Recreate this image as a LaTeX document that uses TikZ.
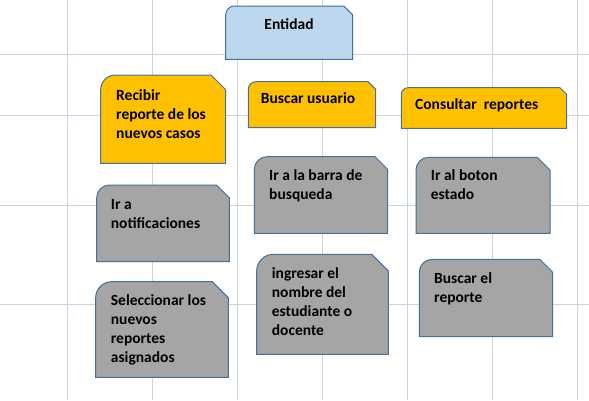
\documentclass[tikz,border=0pt]{standalone}
\usepackage{fontspec}
\setmainfont{Carlito}
\usetikzlibrary{calc}
\definecolor{rejilla}{RGB}{201,211,226}
\definecolor{borde}{RGB}{65,113,156}
\definecolor{celeste}{RGB}{189,215,238}
\definecolor{ambar}{RGB}{255,192,0}
\definecolor{gris}{RGB}{165,165,165}

% box with rounded top-left corner and snipped top-right corner
\newcommand{\tarjeta}[5]{%
  \pgfmathsetmacro{\rr}{min(#4-#2,#5-#3)/6}%
  \path[#1] (#2,#5) -- (#2,#3+\rr) arc[start angle=180, end angle=270, radius=\rr]
    -- (#4-\rr,#3) -- (#4,#3+\rr) -- (#4,#5) -- cycle;}

\begin{document}
\begin{tikzpicture}[x=1pt, y=-1pt,
  forma/.style={fill=#1, draw=borde, line width=1pt},
  txt/.style={font=\fontsize{15.5}{19}\selectfont\bfseries, align=left, inner sep=0pt, anchor=base west},
  grid line/.style={draw=rejilla, line width=1pt}
]
\useasboundingbox (0,0) rectangle (589,400);
\fill[white] (0,0) rectangle (589,400);

% Background grid
\foreach \x in {67.7,152.7,237.7,322.5,407.7,492.7,577.3}
  \draw[grid line] (\x,0) -- (\x,400);
\foreach \y in {54,115.3,205.3,304}
  \draw[grid line] (0,\y) -- (589,\y);

% Top entity
\tarjeta{forma=celeste}{225.7}{6}{352.7}{59.3}
\node[txt, anchor=base] (entidad) at (289,29.5) {Entidad};

% Main tasks (base = last line)
\tarjeta{forma=ambar}{100.7}{75}{225.7}{163.3}
\node[txt] (recibir) at (116,138) {Recibir\\reporte de los\\nuevos casos};
\tarjeta{forma=ambar}{248.3}{81.7}{375.7}{127.7}
\node[txt] (buscarU) at (260.7,103) {Buscar usuario};
\tarjeta{forma=ambar}{401.3}{87.7}{566.7}{128.3}
\node[txt] (consultar) at (415,109) {Consultar~ reportes};

% Steps
\tarjeta{forma=gris}{96.7}{185}{229.3}{261.7}
\node[txt] (notif) at (110.7,228) {Ir a\\notificaciones};
\tarjeta{forma=gris}{95.7}{281.7}{228.3}{377.3}
\node[txt] (selec) at (110.7,362) {Seleccionar los\\nuevos\\reportes\\asignados};
\tarjeta{forma=gris}{254.3}{156.7}{387.7}{233.3}
\node[txt] (barra) at (269,199.7) {Ir a la barra de\\busqueda};
\tarjeta{forma=gris}{256.7}{254.3}{388.3}{354.3}
\node[txt] (ingresar) at (271.7,335) {ingresar el\\nombre del\\estudiante o\\docente};
\tarjeta{forma=gris}{416}{157.3}{550}{233.3}
\node[txt] (boton) at (430.7,199.7) {Ir al boton\\estado};
\tarjeta{forma=gris}{419.3}{259.3}{552.7}{336.7}
\node[txt] (buscarR) at (434,302) {Buscar el\\reporte};
\end{tikzpicture}
\end{document}
